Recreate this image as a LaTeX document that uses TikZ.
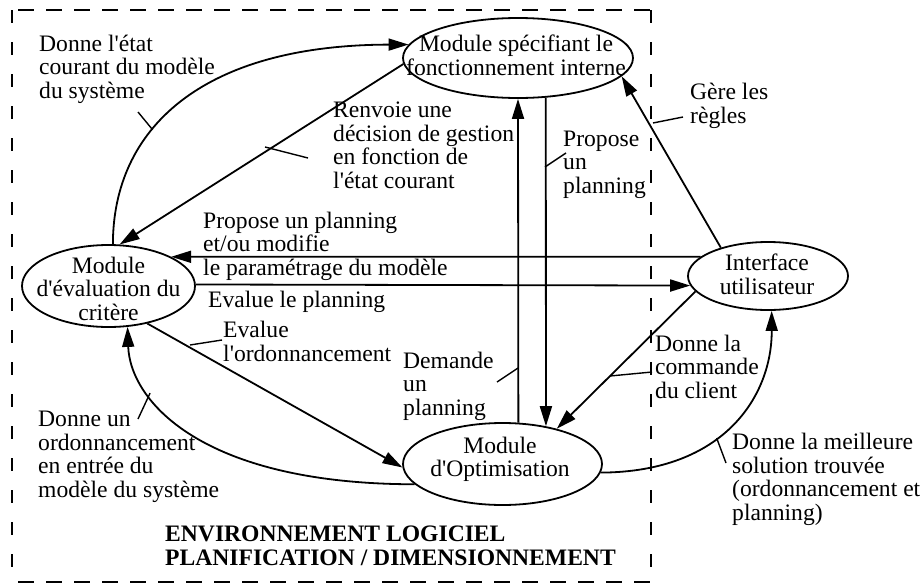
\documentclass[tikz,border=0pt]{standalone}
\usepackage{fontspec}
\setmainfont{Liberation Serif}
\usetikzlibrary{arrows.meta,shapes.geometric}
\newcommand\apos{\XeTeXglyph\XeTeXcharglyph"27\relax}
\begin{document}
\begin{tikzpicture}[x=1pt,y=-1pt,
  every node/.style={font=\fontsize{23.6}{23.4}\selectfont},
  ell/.style={ellipse,draw,line width=1.8pt,inner sep=0pt},
  lbl/.style={align=left,anchor=base west,inner sep=0pt},
  ctext/.style={align=center,anchor=base,inner sep=0pt},
  conn/.style={line width=1.8pt,-{Triangle[length=20pt,width=12pt]}},
  tick/.style={line width=1.4pt},
  frame/.style={line width=1.4pt}]
\useasboundingbox (0,0) rectangle (924,584);

% dashed environment frame
\draw[frame,dash pattern=on 13pt off 19pt] (12,10) -- (12,582);
\draw[frame,dash pattern=on 16pt off 12pt] (18,10) -- (651,10);
\draw[frame,dash pattern=on 13pt off 19pt] (651,10) -- (651,582);
\draw[frame,dash pattern=on 16pt off 12pt] (18,582) -- (651,582);

% ellipses
\node[ell,minimum width=230pt,minimum height=80pt] (spec) at (518,58) {};
\node[ell,minimum width=173pt,minimum height=82pt] (eval) at (108.5,286) {};
\node[ell,minimum width=160pt,minimum height=68pt] (iface) at (768,276) {};
\node[ell,minimum width=199pt,minimum height=82pt] (optim) at (502.5,464) {};

% ellipse texts (base = last line)
\node[ctext] (specT) at (516,75) {Module spécifiant le\\fonctionnement interne};
\node[ctext] (evalT) at (108.5,320) {Module\\d\apos évaluation du\\critère};
\node[ctext] (ifaceT) at (767,294) {Interface\\utilisateur};
\node[ctext] (optimT) at (500,476.5) {Module\\d\apos Optimisation};

% connectors
\draw[conn] (eval.84) .. controls (113,130) and (200,45) .. coordinate[pos=0.38] (tA2) (spec.173);
\draw[conn] (spec.183) -- (eval.75);
\draw[conn] (iface.164) -- (eval.25);
\draw[conn] (eval.1) -- (iface.187);
\draw[conn] (eval.316) -- (optim.182);
\draw[conn] (optim.193) .. controls (200,484) and (130,400) .. coordinate[pos=0.7] (tF1) (eval.295);
\draw[conn] (optim.69) -- (spec.south);
\draw[conn] (spec.305) -- (optim.41);
\draw[conn] (iface.149) -- (spec.350);
\draw[conn] (iface.192) -- (optim.33);
\draw[conn] (optim.355.4) .. controls (725,472) and (772,395) .. coordinate[pos=0.41] (tK1) (iface.276.7);

% label leader ticks
\coordinate (tA1) at (138,112);
\coordinate (tB1) at (265,147); \coordinate (tB2) at (308,158);
\coordinate (tE1) at (190,345); \coordinate (tE2) at (222,340);
\coordinate (tF2) at (138,419);
\coordinate (tG1) at (518,368); \coordinate (tG2) at (497,382);
\coordinate (tH1) at (545,167); \coordinate (tH2) at (566,153);
\coordinate (tI1) at (653,123); \coordinate (tI2) at (683,117);
\coordinate (tJ1) at (610,376); \coordinate (tJ2) at (652,372);
\coordinate (tK2) at (726,463);
\draw[tick] (tA1) -- (tA2);
\draw[tick] (tB1) -- (tB2);
\draw[tick] (tE1) -- (tE2);
\draw[tick] (tF1) -- (tF2);
\draw[tick] (tG1) -- (tG2);
\draw[tick] (tH1) -- (tH2);
\draw[tick] (tI1) -- (tI2);
\draw[tick] (tJ1) -- (tJ2);
\draw[tick] (tK1) -- (tK2);

% labels (anchor = baseline of last line)
\node[lbl] (lA) at (39,98) {Donne l\apos état\\courant du modèle\\du système};
\node[lbl] (lB) at (333,188) {Renvoie une\\décision de gestion\\en fonction de\\l\apos état courant};
\node[lbl] (lC) at (203,275) {Propose un planning\\et/ou modifie\\le paramétrage du modèle};
\node[lbl] (lD) at (208,307) {Evalue le planning};
\node[lbl] (lE) at (223,361) {Evalue\\l\apos ordonnancement};
\node[lbl] (lF) at (38,497) {Donne un\\ordonnancement\\en entrée du\\modèle du système};
\node[lbl] (lG) at (403,415) {Demande\\un\\planning};
\node[lbl] (lH) at (563,193) {Propose\\un\\planning};
\node[lbl] (lI) at (690,123) {Gère les\\règles};
\node[lbl] (lJ) at (655,398) {Donne la\\commande\\du client};
\node[lbl] (lK) at (732,520) {Donne la meilleure\\solution trouvée\\(ordonnancement et\\planning)};
\node[lbl,font=\fontsize{23.6}{23.4}\selectfont\bfseries] (title) at (165,565) {ENVIRONNEMENT LOGICIEL\\PLANIFICATION / DIMENSIONNEMENT};
\end{tikzpicture}
\end{document}
